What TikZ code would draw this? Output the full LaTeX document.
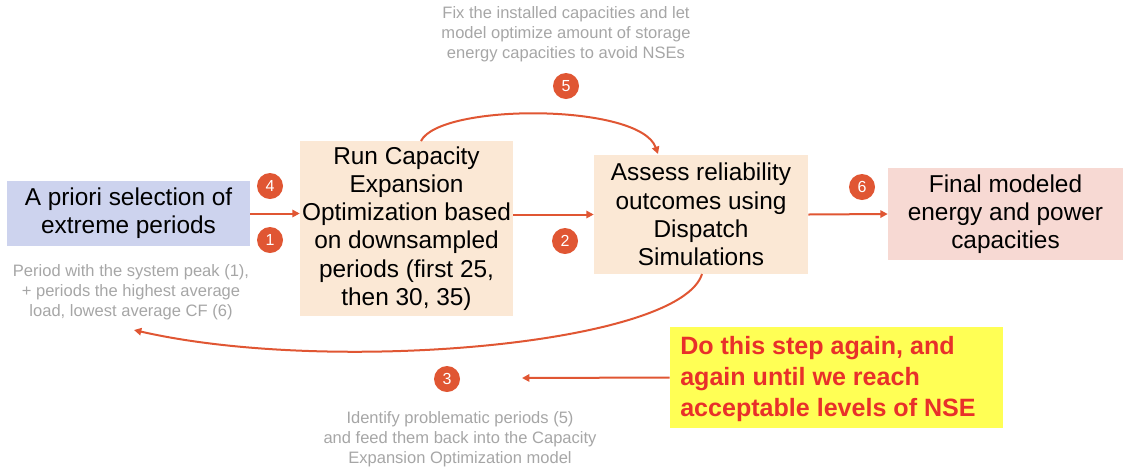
\documentclass[tikz,border=0pt]{standalone}
\usepackage{fontspec}
\setmainfont{Liberation Sans}
\usetikzlibrary{arrows.meta}
\definecolor{flow}{RGB}{224,86,51}
\definecolor{note}{RGB}{166,166,166}
\definecolor{bluebox}{RGB}{205,211,238}
\definecolor{peach}{RGB}{251,232,213}
\definecolor{pinkbox}{RGB}{247,217,211}
\definecolor{hilite}{RGB}{255,255,85}
\definecolor{alert}{RGB}{232,48,42}
\begin{document}
\begin{tikzpicture}[x=0.75pt,y=-0.75pt,
  box/.style={inner sep=0pt, align=center, font=\fontsize{18.3}{21.2}\selectfont},
  badge/.style={circle, fill=flow, text=white, minimum size=19.5pt, inner sep=0pt, font=\fontsize{12}{12}\selectfont},
  remark/.style={text=note, align=center, font=\fontsize{12.4}{15}\selectfont},
  flowline/.style={draw=flow, line width=1.5pt, -{Triangle[length=5.5pt,width=5.5pt]}}
]
\useasboundingbox (0,0) rectangle (1123,469);

% process boxes
\node[box, fill=bluebox, minimum width=182.25pt, minimum height=48.75pt] (sel) at (128.5,213.5)
  {A priori selection of\\extreme periods};
\node[box, fill=peach, minimum width=159.75pt, minimum height=131.25pt] (cem) at (406.5,228.5)
  {Run Capacity\\Expansion\\Optimization based\\on downsampled\\periods (first 25,\\then 30, 35)};
\node[box, fill=peach, minimum width=160.5pt, minimum height=89.25pt] (disp) at (701,214.5)
  {Assess reliability\\outcomes using\\Dispatch\\Simulations};
\node[box, fill=pinkbox, minimum width=176.25pt, minimum height=69pt] (final) at (1005.5,214)
  {Final modeled\\energy and power\\capacities};

% highlighted remark
\node[fill=hilite, minimum width=249.75pt, minimum height=75.75pt, inner sep=0pt] (again) at (836.5,377.5) {};
\node[text=alert, align=left, anchor=west, inner sep=0pt,
      font=\bfseries\fontsize{18.8}{23.3}\selectfont] (againtxt) at (680,379)
  {Do this step again, and\\again until we reach\\acceptable levels of NSE};

% step badges
\node[badge] (b4) at (270,186) {4};
\node[badge] (b1) at (270,240) {1};
\node[badge] (b2) at (565,241) {2};
\node[badge] (b6) at (862,187) {6};
\node[badge] (b5) at (566,86) {5};
\node[badge] (b3) at (447,379) {3};

% grey annotations
\node[remark] (n5) at (566,34)
  {Fix the installed capacities and let\\model optimize amount of storage\\energy capacities to avoid NSEs};
\node[remark] (n1) at (131,292)
  {Period with the system peak (1),\\+ periods the highest average\\load, lowest average CF (6)};
\node[remark] (n3) at (460,439)
  {Identify problematic periods (5)\\and feed them back into the Capacity\\Expansion Optimization model};

% connectors
\draw[flowline] (sel.east) -- (sel.east -| cem.west);
\draw[flowline] (cem.east |- disp.west) -- (disp.west);
\draw[flowline] (disp.east) -- (final.west);
\coordinate (cemtop) at (421,141);
\coordinate (disptop) at (658,154);
\draw[flowline] (cemtop) .. controls (440,103) and (640,103) .. (disptop);
\coordinate (dispbot) at (702,274);
\coordinate (seltarget) at (134,330);
\draw[flowline] (dispbot) .. controls (680,345) and (330,375) .. (seltarget);
\coordinate (againend) at (522,378);
\draw[flowline] (again.west) -- (againend);
\end{tikzpicture}
\end{document}
